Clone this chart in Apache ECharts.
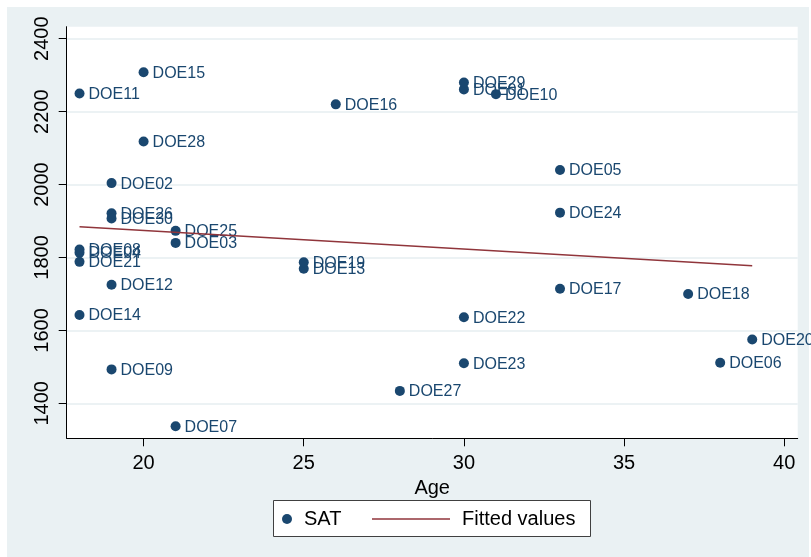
<!DOCTYPE html>
<html>
<head>
<meta charset="utf-8">
<script src="https://cdn.jsdelivr.net/npm/echarts@6/dist/echarts.min.js"></script>
<style>
html, body { margin: 0; padding: 0; background: #fff; }
#chart { width: 811px; height: 557px; }
</style>
</head>
<body>
<div id="chart"></div>
<script>
// 数据: 学生编号, 年龄, SAT
const names = ['DOE01', 'DOE02', 'DOE03', 'DOE04', 'DOE05', 'DOE06', 'DOE07', 'DOE08', 'DOE09', 'DOE10',
  'DOE11', 'DOE12', 'DOE13', 'DOE14', 'DOE15', 'DOE16', 'DOE17', 'DOE18', 'DOE19', 'DOE20',
  'DOE21', 'DOE22', 'DOE23', 'DOE24', 'DOE25', 'DOE26', 'DOE27', 'DOE28', 'DOE29', 'DOE30'];
const ages = [30, 19, 21, 18, 33, 38, 21, 18, 19, 31,
  18, 19, 25, 18, 20, 26, 33, 37, 25, 39,
  18, 30, 30, 33, 21, 19, 28, 20, 30, 19];
const sat = [2261, 2004, 1840, 1813, 2040, 1511, 1337, 1822, 1493, 2248,
  2250, 1725, 1769, 1642, 2308, 2220, 1714, 1700, 1787, 1575,
  1788, 1636, 1510, 1923, 1873, 1921, 1434, 2118, 2280, 1907];
// 拟合线两端
const fitAges = [18, 39];
const fitValues = [1884, 1777];
// 刻度
const xTicks = [20, 25, 30, 35, 40];
const yTicks = [1400, 1600, 1800, 2000, 2200, 2400];

const navy = '#1a476f';
const font = 'Liberation Sans';

let scatterData = [];
for (let i in names) {
  scatterData.push({ name: names[i], value: [ages[i], sat[i]] });
}
let fitData = [];
for (let i in fitAges) {
  fitData.push([fitAges[i], fitValues[i]]);
}

const chart = echarts.init(document.getElementById('chart'), null, { renderer: 'canvas' });

let option = {
  backgroundColor: '#ffffff',
  animation: false,
  textStyle: { fontFamily: font },
  graphic: [
    { type: 'rect', z: -10, silent: true, shape: { x: 7, y: 7, width: 802, height: 550 }, style: { fill: '#eaf1f3' } },
    { type: 'rect', z: 1, silent: true, shape: { x: 273.5, y: 500.5, width: 317, height: 36 }, style: { fill: '#fff', stroke: '#404040', lineWidth: 1 } }
  ],
  grid: {
    left: 66.7, right: 13.3, top: 26.7, bottom: 118.7,
    show: true, backgroundColor: '#fff', borderWidth: 0
  },
  legend: [
    {
      data: ['SAT'], left: 282, top: 508, padding: 0, selectedMode: false, z: 5,
      itemWidth: 10, itemHeight: 10,
      textStyle: { fontSize: 20, color: '#000', fontFamily: font, lineHeight: 22, padding: [0, 0, 0, 7] }
    },
    {
      data: [{ name: 'Fitted values', icon: 'rect' }], left: 372, top: 508, padding: 0, selectedMode: false, z: 5,
      itemWidth: 78, itemHeight: 1.5,
      textStyle: { fontSize: 20, color: '#000', fontFamily: font, lineHeight: 22, padding: [0, 0, 0, 7] }
    }
  ],
  xAxis: {
    type: 'value', min: 17.6, max: 40.42,
    name: 'Age', nameLocation: 'middle', nameGap: 32,
    nameTextStyle: { fontSize: 20, color: '#000', fontFamily: font },
    axisLine: { show: true, onZero: false, lineStyle: { color: '#000', width: 1 } },
    axisTick: { show: true, length: 8, customValues: xTicks, lineStyle: { color: '#000' } },
    axisLabel: { customValues: xTicks, fontSize: 20, color: '#000', margin: 15, fontFamily: font },
    splitLine: { show: false }
  },
  yAxis: {
    type: 'value', min: 1304, max: 2433,
    axisLine: { show: true, onZero: false, lineStyle: { color: '#000', width: 1 } },
    axisTick: { show: true, length: 8, customValues: yTicks, lineStyle: { color: '#000' } },
    axisLabel: {
      customValues: yTicks, rotate: 90, fontSize: 20, color: '#000', margin: 14, fontFamily: font,
      formatter: function (v) { return String(v); }
    },
    splitLine: { show: true, lineStyle: { color: '#e6eef1', width: 1.5 } }
  },
  series: [
    {
      name: 'SAT', type: 'scatter', symbol: 'circle', symbolSize: 10,
      itemStyle: { color: navy, opacity: 1 },
      label: {
        show: true, position: 'right', distance: 4, formatter: '{b}',
        color: navy, fontSize: 16, fontFamily: font, offset: [0, 1]
      },
      data: scatterData
    },
    {
      name: 'Fitted values', type: 'line', symbol: 'none',
      lineStyle: { color: '#90353b', width: 1.5 },
      itemStyle: { color: '#90353b' },
      data: fitData
    }
  ]
};
chart.setOption(option);
</script>
</body>
</html>
